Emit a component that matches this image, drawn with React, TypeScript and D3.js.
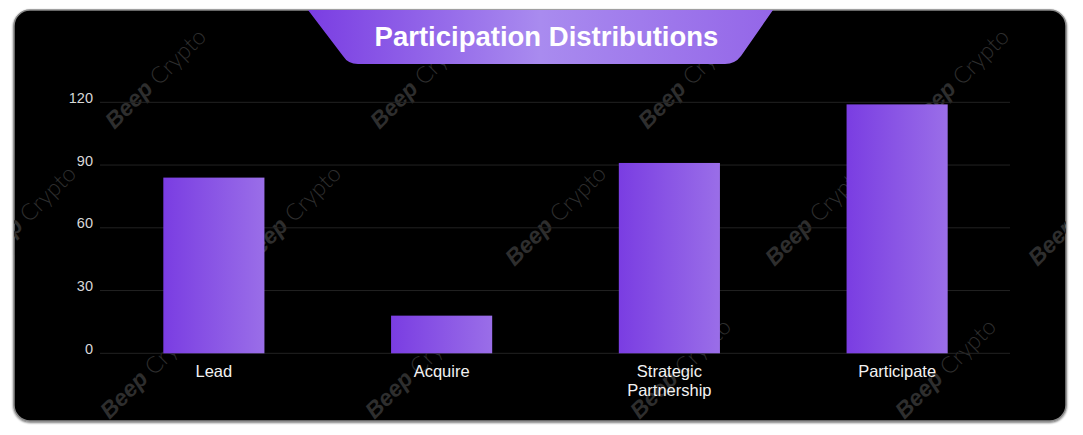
import React from "react";
import * as d3 from "d3";

const categories: string[][] = [["Lead"], ["Acquire"], ["Strategic", "Partnership"], ["Participate"]];
const values: number[] = [84, 18, 91, 119];
const yTicks: number[] = [0, 30, 60, 90, 120];
const title = "Participation Distributions";

const W = 1083;
const H = 435;
const plotLeft = 100;
const plotRight = 1011;
const yTop = 102.3;
const yBottom = 353.3;

export default function App() {
  const x = d3
    .scaleBand<number>()
    .domain(values.map((_, i) => i))
    .range([plotLeft, plotRight])
    .paddingInner(0.556)
    .paddingOuter(0.278);
  const y = d3.scaleLinear().domain([0, 120]).range([yBottom, yTop]);

  const wm: { cx: number; cy: number }[] = [];
  const rows = [
    { cy: 78, xs: [155, 420, 688, 958] },
    { cy: 215, xs: [25, 290, 555, 815, 1078] },
    { cy: 368, xs: [150, 415, 680, 945] },
  ];
  rows.forEach((r) => r.xs.forEach((cx) => wm.push({ cx, cy: r.cy })));

  const bannerPath = "M308,10 L773,10 L741,56 Q735,64 725,64 L358,64 Q348,64 343,56 Z";

  return (
    <svg
      width={W}
      height={H}
      style={{ position: "absolute", left: 0, top: 0, background: "#fff" }}
      fontFamily="'Liberation Sans', Arial, sans-serif"
    >
      <defs>
        <linearGradient id="barGrad" x1="0" x2="1" y1="0" y2="0">
          <stop offset="0%" stopColor="#7a3de2" />
          <stop offset="100%" stopColor="#9a6ee8" />
        </linearGradient>
        <linearGradient id="bannerGrad" gradientUnits="userSpaceOnUse" x1="308" x2="773" y1="0" y2="0">
          <stop offset="0%" stopColor="#7a3de2" />
          <stop offset="50%" stopColor="#a98bef" />
          <stop offset="100%" stopColor="#9466e8" />
        </linearGradient>
        <filter id="shadow" x="-5%" y="-5%" width="110%" height="110%">
          <feDropShadow dx="0" dy="1" stdDeviation="1.2" floodColor="#000" floodOpacity="0.6" />
        </filter>
        <clipPath id="cardClip">
          <rect x={14} y={10} width={1052} height={411} rx={16} />
        </clipPath>
      </defs>

      <rect x={14} y={10} width={1052} height={411} rx={16} fill="#000" stroke="#8a8a8a" strokeWidth={1.5} filter="url(#shadow)" />

      <g clipPath="url(#cardClip)">
        {wm.map((w, i) => (
          <text
            key={i}
            transform={`translate(${w.cx},${w.cy}) rotate(-45)`}
            textAnchor="middle"
            dominantBaseline="central"
            fontSize={23}
            fill="#2e2e2e"
          >
            <tspan fontWeight="bold" fontStyle="italic">Beep</tspan>
            <tspan fontWeight="300" fontFamily="Lato, 'Open Sans', sans-serif"> Crypto</tspan>
          </text>
        ))}

        {yTicks.map((t) => (
          <g key={t}>
            <line x1={plotLeft} x2={plotRight - 1} y1={y(t)} y2={y(t)} stroke="#222" strokeWidth={1} />
            <text x={93} y={y(t) + 0.5} textAnchor="end" fontSize={14.5} fill="#d8d8d8">
              {t}
            </text>
          </g>
        ))}

        {values.map((v, i) => (
          <rect key={i} x={x(i)} y={y(v)} width={x.bandwidth()} height={y(0) - y(v)} fill="url(#barGrad)" />
        ))}

        {categories.map((lines, i) => (
          <text key={i} x={(x(i) as number) + x.bandwidth() / 2} textAnchor="middle" fontSize={16.5} fill="#f2f2f2">
            {lines.map((l, j) => (
              <tspan key={j} x={(x(i) as number) + x.bandwidth() / 2} y={377 + j * 19}>
                {l}
              </tspan>
            ))}
          </text>
        ))}

        <path d={bannerPath} fill="url(#bannerGrad)" />
        <text x={546.5} y={46} textAnchor="middle" fontSize={27.5} fontWeight="bold" fill="#fff">
          {title}
        </text>
      </g>
    </svg>
  );
}
